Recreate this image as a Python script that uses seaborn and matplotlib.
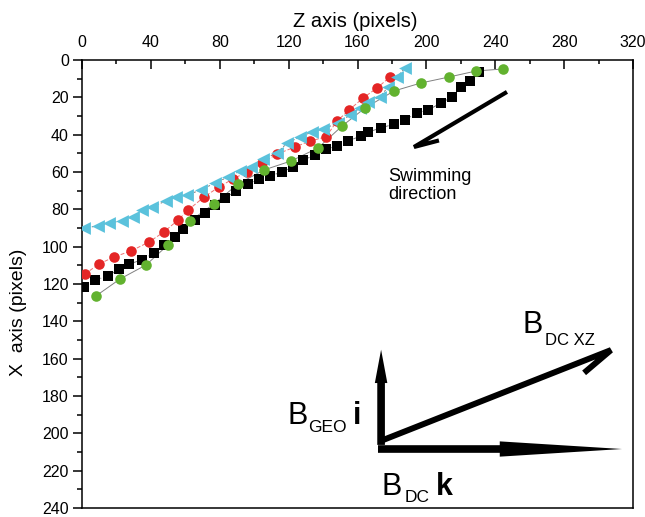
import matplotlib
matplotlib.use("Agg")
import matplotlib.pyplot as plt
from matplotlib.patches import ArrowStyle
from matplotlib.ticker import MultipleLocator
import seaborn as sns
import pandas as pd

# ---------------- data ----------------
black_z = [1.2, 7.6, 15.1, 21.5, 27.3, 34.8, 41.8, 47.6, 54.0, 58.7, 65.6, 71.4, 77.2,
           83.1, 89.4, 96.4, 102.8, 109.2, 116.1, 122.5, 128.4, 135.3, 141.7, 148.1,
           154.5, 162.0, 166.1, 173.7, 181.2, 187.6, 194.6, 201.0, 208.5, 214.9, 220.1,
           225.3, 230.6]
black_x = [121.6, 117.9, 115.7, 112.0, 109.3, 107.1, 103.4, 99.1, 94.8, 90.5, 85.7, 82.0,
           77.7, 73.9, 70.2, 66.4, 63.7, 62.1, 60.0, 57.3, 53.6, 50.9, 47.7, 46.1, 43.4,
           40.7, 38.6, 36.4, 34.3, 32.1, 28.4, 26.8, 23.0, 19.8, 14.5, 11.2, 6.4]

red_z = [1.7, 9.9, 18.6, 28.5, 38.9, 47.6, 55.8, 61.6, 70.9, 79.6, 87.7, 95.8, 104.5,
         113.3, 123.7, 132.4, 141.7, 148.1, 155.1, 163.2, 171.3, 178.9]
red_x = [114.6, 109.3, 105.5, 102.3, 97.5, 92.1, 85.7, 80.4, 73.4, 68.0, 63.7, 60.0, 55.2,
         50.4, 46.6, 43.4, 41.2, 32.7, 26.8, 20.4, 15.0, 9.1]

cyan_z = [1.2, 9.3, 15.7, 23.2, 29.6, 34.8, 40.7, 48.8, 54.6, 61.0, 69.1, 77.2, 84.8, 91.8,
          98.2, 105.1, 113.3, 119.1, 126.6, 133.6, 140.0, 148.7, 155.7, 161.5, 166.1,
          173.1, 177.7, 183.0, 187.6]
cyan_x = [90.0, 88.9, 87.3, 86.2, 84.1, 80.4, 78.7, 75.5, 73.4, 72.3, 69.6, 65.9, 62.7, 59.5,
          57.3, 53.0, 49.8, 44.5, 41.2, 38.6, 37.0, 33.7, 29.5, 25.7, 22.5, 19.8, 14.5,
          9.1, 4.3]

green_z = [8.1, 22.1, 37.2, 49.9, 62.7, 76.7, 90.6, 105.7, 121.4, 137.1, 151.0, 164.4,
           181.2, 196.9, 213.2, 228.8, 244.5]
green_x = [126.4, 117.3, 109.8, 99.1, 86.2, 77.1, 66.4, 58.9, 54.1, 47.1, 35.4, 25.7, 16.6,
           12.3, 9.1, 5.9, 4.8]

z_ticks = [0, 40, 80, 120, 160, 200, 240, 280, 320]
x_ticks = [0, 20, 40, 60, 80, 100, 120, 140, 160, 180, 200, 220, 240]

# annotation geometry (data coords: z, x)
swim_arrow = [(246.8, 17.1), (192.8, 46.6), (207.3, 43.1)]
bxz_arrow = [(174.8, 203.6), (307.2, 155.4), (291.6, 167.6)]
bgeo_arrow = ((173.7, 206.2), (173.7, 155.2))
bdc_arrow = ((171.9, 208.4), (313.6, 208.4))

# ---------------- style ----------------
sns.set_style("ticks")
plt.rcParams["font.family"] = ["Liberation Sans", "DejaVu Sans"]
plt.rcParams["axes.edgecolor"] = "black"
plt.rcParams["xtick.color"] = "black"
plt.rcParams["ytick.color"] = "black"
plt.rcParams["text.color"] = "black"
plt.rcParams["axes.labelcolor"] = "black"

fig = plt.figure(figsize=(6.45, 5.17), dpi=100)
ax = fig.add_axes([82 / 645, 1 - 508 / 517, (633 - 82) / 645, (508 - 60) / 517])

series = [
    (black_z, black_x, "#000000", "s", 45, "#7a7a7a", (0, (6, 2, 1, 2))),
    (red_z, red_x, "#e42525", "o", 58, "#f07070", (0, (4, 2))),
    (cyan_z, cyan_x, "#5bc2dc", "<", 85, "#7a7a7a", (0, (2, 2))),
    (green_z, green_x, "#62b22f", "o", 58, "#808080", "-"),
]
for zs, xs, col, mk, sz, lcol, ls in series:
    df = pd.DataFrame({"z": zs, "x": xs})
    sns.lineplot(data=df, x="z", y="x", sort=False, estimator=None, ax=ax,
                 color=lcol, linewidth=0.7, linestyle=ls, zorder=2)
    sns.scatterplot(data=df, x="z", y="x", ax=ax, color=col, marker=mk, s=sz,
                    linewidth=0, zorder=3)

ax.set_xlim(0, 320)
ax.set_ylim(240, 0)
ax.set_xticks(z_ticks)
ax.set_yticks(x_ticks)
ax.xaxis.set_minor_locator(MultipleLocator(20))
ax.yaxis.set_minor_locator(MultipleLocator(10))
ax.xaxis.tick_top()
ax.xaxis.set_label_position("top")

for sp in ax.spines.values():
    sp.set_linewidth(1.1)
    sp.set_color("black")

ax.tick_params(axis="x", which="major", direction="in", length=6.5, width=1.1, pad=7,
               labelsize=11.5, top=True, bottom=False, labeltop=True, labelbottom=False)
ax.tick_params(axis="x", which="minor", direction="in", length=3, width=1.1,
               top=True, bottom=False)
ax.tick_params(axis="y", which="major", direction="out", length=6.5, width=1.1, pad=3,
               labelsize=11.5, left=True, right=False)
ax.tick_params(axis="y", which="minor", direction="out", length=3.5, width=1.1,
               left=True, right=False)

ax.set_xlabel("Z axis (pixels)", fontsize=14.5)
ax.set_ylabel("X  axis (pixels)", fontsize=14)
ax.xaxis.set_label_coords(0.4955, 1 + (60 - 27) / 448)
ax.yaxis.set_label_coords((27 - 82) / 551, 1 - (312 - 60) / 448)

# swimming direction harpoon
sz_, sx_ = zip(*swim_arrow)
ax.plot(sz_, sx_, color="black", lw=3.0, solid_joinstyle="miter",
        solid_capstyle="butt", zorder=4)
ax.text(177.7, 57.9, "Swimming\ndirection", fontsize=13, ha="left", va="top",
        linespacing=1.05)

# B_DC XZ harpoon
bz_, bx_ = zip(*bxz_arrow)
ax.plot(bz_, bx_, color="black", lw=4.3, solid_joinstyle="miter",
        solid_capstyle="butt", zorder=4)

# B_GEO vertical arrow
ax.annotate("", xy=bgeo_arrow[1], xytext=bgeo_arrow[0],
            arrowprops=dict(arrowstyle=ArrowStyle.Simple(head_length=24, head_width=9,
                                                         tail_width=5.5),
                            mutation_scale=1, fc="black", ec="black", lw=0,
                            shrinkA=0, shrinkB=0), zorder=4)
# B_DC horizontal arrow
ax.annotate("", xy=bdc_arrow[1], xytext=bdc_arrow[0],
            arrowprops=dict(arrowstyle=ArrowStyle.Simple(head_length=88, head_width=11,
                                                         tail_width=5.5),
                            mutation_scale=1, fc="black", ec="black", lw=0,
                            shrinkA=0, shrinkB=0), zorder=4)

# vector labels
ax.text(256.1, 146.2, "B", fontsize=22, ha="left", va="baseline")
ax.text(269.0, 152.7, "DC XZ", fontsize=12, ha="left", va="baseline")
ax.text(119.6, 195.0, "B", fontsize=22, ha="left", va="baseline")
ax.text(131.6, 199.3, "GEO", fontsize=12.5, ha="left", va="baseline")
ax.text(157.6, 195.0, "i", fontsize=22, fontweight="bold", ha="left", va="baseline")
ax.text(173.7, 233.0, "B", fontsize=22, ha="left", va="baseline")
ax.text(187.3, 236.8, "DC", fontsize=12.5, ha="left", va="baseline")
ax.text(205.8, 233.0, "k", fontsize=22, fontweight="bold", ha="left", va="baseline")

fig.savefig("out.png", dpi=100)
